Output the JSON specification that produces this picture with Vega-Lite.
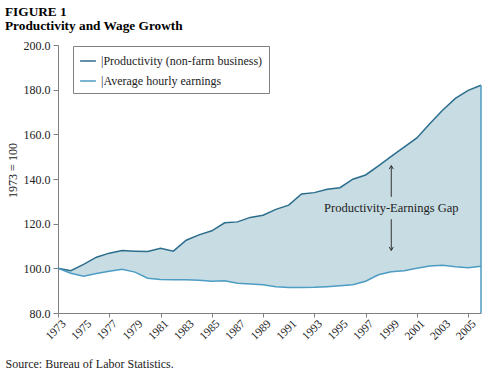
{
  "$schema": "https://vega.github.io/schema/vega-lite/v6.json",
  "width": 423,
  "height": 268,
  "autosize": {"type": "none"},
  "padding": {"left": 58, "top": 45, "right": 9, "bottom": 59},
  "background": "white",
  "config": {
    "font": "Liberation Serif",
    "view": {"stroke": null},
    "axis": {"labelFont": "Liberation Serif", "titleFont": "Liberation Serif", "labelColor": "#222", "titleColor": "#222", "domainColor": "#808080", "tickColor": "#808080", "grid": false, "labelFontSize": 12, "titleFontSize": 12, "titleFontWeight": "normal"},
    "legend": {"labelFont": "Liberation Serif"}
  },
  "title": {
    "text": ["FIGURE 1", "Productivity and Wage Growth"],
    "anchor": "start",
    "frame": "group",
    "dx": -53,
    "fontSize": 13.3,
    "fontWeight": "bold",
    "font": "Liberation Serif",
    "color": "black",
    "lineHeight": 14,
    "offset": 7
  },
  "datasets": {
    "wide": [
      {"year": 1973, "Productivity (non-farm business)": 100.0, "Average hourly earnings": 100.0},
      {"year": 1974, "Productivity (non-farm business)": 98.9, "Average hourly earnings": 97.8},
      {"year": 1975, "Productivity (non-farm business)": 101.8, "Average hourly earnings": 96.5},
      {"year": 1976, "Productivity (non-farm business)": 105.0, "Average hourly earnings": 97.7},
      {"year": 1977, "Productivity (non-farm business)": 106.8, "Average hourly earnings": 98.7},
      {"year": 1978, "Productivity (non-farm business)": 108.0, "Average hourly earnings": 99.6},
      {"year": 1979, "Productivity (non-farm business)": 107.7, "Average hourly earnings": 98.3},
      {"year": 1980, "Productivity (non-farm business)": 107.5, "Average hourly earnings": 95.6},
      {"year": 1981, "Productivity (non-farm business)": 109.0, "Average hourly earnings": 95.0},
      {"year": 1982, "Productivity (non-farm business)": 107.7, "Average hourly earnings": 94.9},
      {"year": 1983, "Productivity (non-farm business)": 112.6, "Average hourly earnings": 94.9},
      {"year": 1984, "Productivity (non-farm business)": 115.0, "Average hourly earnings": 94.7},
      {"year": 1985, "Productivity (non-farm business)": 116.8, "Average hourly earnings": 94.2},
      {"year": 1986, "Productivity (non-farm business)": 120.4, "Average hourly earnings": 94.4},
      {"year": 1987, "Productivity (non-farm business)": 120.8, "Average hourly earnings": 93.3},
      {"year": 1988, "Productivity (non-farm business)": 122.8, "Average hourly earnings": 93.0},
      {"year": 1989, "Productivity (non-farm business)": 123.8, "Average hourly earnings": 92.6},
      {"year": 1990, "Productivity (non-farm business)": 126.4, "Average hourly earnings": 91.8},
      {"year": 1991, "Productivity (non-farm business)": 128.3, "Average hourly earnings": 91.4},
      {"year": 1992, "Productivity (non-farm business)": 133.3, "Average hourly earnings": 91.4},
      {"year": 1993, "Productivity (non-farm business)": 133.9, "Average hourly earnings": 91.5},
      {"year": 1994, "Productivity (non-farm business)": 135.4, "Average hourly earnings": 91.8},
      {"year": 1995, "Productivity (non-farm business)": 136.1, "Average hourly earnings": 92.2},
      {"year": 1996, "Productivity (non-farm business)": 139.9, "Average hourly earnings": 92.7},
      {"year": 1997, "Productivity (non-farm business)": 141.8, "Average hourly earnings": 94.2},
      {"year": 1998, "Productivity (non-farm business)": 145.9, "Average hourly earnings": 97.1},
      {"year": 1999, "Productivity (non-farm business)": 150.1, "Average hourly earnings": 98.5},
      {"year": 2000, "Productivity (non-farm business)": 154.3, "Average hourly earnings": 98.9},
      {"year": 2001, "Productivity (non-farm business)": 158.4, "Average hourly earnings": 100.0},
      {"year": 2002, "Productivity (non-farm business)": 164.7, "Average hourly earnings": 101.0},
      {"year": 2003, "Productivity (non-farm business)": 170.8, "Average hourly earnings": 101.4},
      {"year": 2004, "Productivity (non-farm business)": 176.1, "Average hourly earnings": 100.7},
      {"year": 2005, "Productivity (non-farm business)": 179.7, "Average hourly earnings": 100.3},
      {"year": 2006, "Productivity (non-farm business)": 182.0, "Average hourly earnings": 100.9}
    ],
    "yearLabels": [
      {"year": 1973}, {"year": 1975}, {"year": 1977}, {"year": 1979}, {"year": 1981}, {"year": 1983},
      {"year": 1985}, {"year": 1987}, {"year": 1989}, {"year": 1991}, {"year": 1993}, {"year": 1995},
      {"year": 1997}, {"year": 1999}, {"year": 2001}, {"year": 2003}, {"year": 2005}
    ],
    "arrows": [
      {"year": 1999, "from": 132, "to": 146, "dir": "up"},
      {"year": 1999, "from": 122, "to": 108, "dir": "down"}
    ],
    "label": [
      {"year": 1999, "value": 127, "text": "Productivity-Earnings Gap"}
    ]
  },
  "layer": [
    {
      "data": {"name": "wide"},
      "mark": {"type": "area", "color": "#c8dce3", "opacity": 1},
      "encoding": {
        "x": {
          "field": "year", "type": "quantitative",
          "scale": {"domain": [1973, 2006], "nice": false, "zero": false},
          "axis": {
            "values": [1973,1974,1975,1976,1977,1978,1979,1980,1981,1982,1983,1984,1985,1986,1987,1988,1989,1990,1991,1992,1993,1994,1995,1996,1997,1998,1999,2000,2001,2002,2003,2004,2005,2006],
            "labels": false,
            "tickSize": 4,
            "title": "Source: Bureau of Labor Statistics.",
            "titleAnchor": "start",
            "titleAlign": "left",
            "titleX": -53,
            "titleY": 45,
            "titleBaseline": "top"
          }
        },
        "y": {
          "field": "Productivity (non-farm business)", "type": "quantitative",
          "scale": {"domain": [80, 200], "nice": false, "zero": false},
          "axis": {"values": [80, 100, 120, 140, 160, 180, 200], "format": ".1f", "tickSize": 5, "labelPadding": 3, "title": "1973 = 100", "titlePadding": 4, "titleY": 125}
        },
        "y2": {"field": "Average hourly earnings"}
      }
    },
    {
      "data": {"name": "wide"},
      "transform": [{"fold": ["Productivity (non-farm business)", "Average hourly earnings"], "as": ["series", "value"]}],
      "mark": {"type": "line", "strokeWidth": 1.5},
      "encoding": {
        "x": {"field": "year", "type": "quantitative"},
        "y": {"field": "value", "type": "quantitative"},
        "color": {
          "field": "series", "type": "nominal",
          "scale": {"domain": ["Productivity (non-farm business)", "Average hourly earnings"], "range": ["#2b6d8c", "#4c9cc4"]},
          "legend": {
            "title": null,
            "orient": "none",
            "legendX": 15,
            "legendY": 1,
            "labelExpr": "'|' + datum.label",
            "strokeColor": "#808080",
            "fillColor": "white",
            "padding": 6,
            "symbolType": "stroke",
            "symbolSize": 250,
            "symbolStrokeWidth": 1.5,
            "labelFontSize": 12,
            "labelColor": "#222",
            "rowPadding": 5,
            "labelLimit": 300,
            "encode": {"symbols": {"update": {"stroke": {"value": "#8fc0d6"}}}}
          }
        }
      }
    },
    {
      "data": {"name": "wide"},
      "transform": [{"filter": "datum.year == 2006"}],
      "mark": {"type": "rule", "color": "#4c9cc4", "strokeWidth": 1.5},
      "encoding": {
        "x": {"field": "year", "type": "quantitative"},
        "y": {"field": "Productivity (non-farm business)", "type": "quantitative"},
        "y2": {"datum": 80}
      }
    },
    {
      "data": {"name": "yearLabels"},
      "mark": {"type": "text", "font": "Liberation Serif", "fontSize": 11.5, "color": "#222", "angle": 315, "align": "right", "baseline": "middle", "dx": -2, "dy": 11},
      "encoding": {
        "x": {"field": "year", "type": "quantitative"},
        "y": {"datum": 80, "type": "quantitative"},
        "text": {"field": "year", "type": "quantitative", "format": "d"}
      }
    },
    {
      "data": {"name": "arrows"},
      "mark": {"type": "rule", "color": "#333", "strokeWidth": 1},
      "encoding": {
        "x": {"field": "year", "type": "quantitative"},
        "y": {"field": "from", "type": "quantitative"},
        "y2": {"field": "to"}
      }
    },
    {
      "data": {"name": "arrows"},
      "mark": {"type": "point", "filled": false, "color": "#333", "strokeWidth": 1, "opacity": 1, "size": 49},
      "encoding": {
        "x": {"field": "year", "type": "quantitative"},
        "y": {"field": "to", "type": "quantitative"},
        "shape": {"field": "dir", "type": "nominal", "scale": {"domain": ["up", "down"], "range": ["M-0.6,1L0,0L0.6,1", "M-0.6,-1L0,0L0.6,-1"]}, "legend": null}
      }
    },
    {
      "data": {"name": "label"},
      "mark": {"type": "text", "font": "Liberation Serif", "fontSize": 12.5, "color": "#222", "align": "center", "baseline": "middle"},
      "encoding": {
        "x": {"field": "year", "type": "quantitative"},
        "y": {"field": "value", "type": "quantitative"},
        "text": {"field": "text"}
      }
    }
  ]
}
